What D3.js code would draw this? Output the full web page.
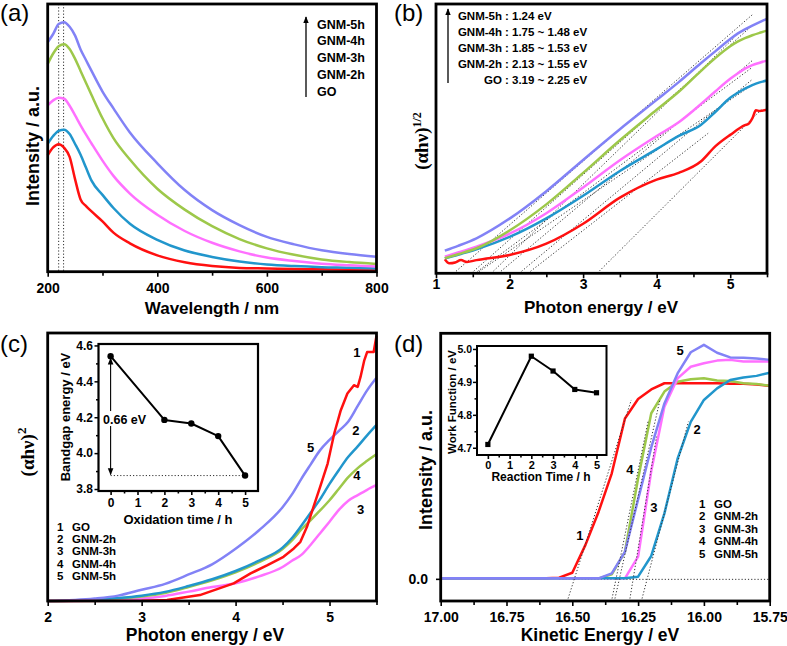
<!DOCTYPE html>
<html><head><meta charset="utf-8">
<script src="https://cdn.jsdelivr.net/npm/d3@7"></script>
<style>body{margin:0;background:#fff}</style>
</head><body>
<script>
// ---------------- DATA ----------------
const seriesNames = ["GO","GNM-2h","GNM-3h","GNM-4h","GNM-5h"];
const seriesColors = ["#ff1010","#2196cc","#ff70ff","#9dc84a","#8282f6"];

// (a) absorbance spectra
const aWavelength = [200,210,220,230,240,250,260,270,280,300,320,350,400,450,500,550,600,650,700,750,800];
const aGO  = [43.5,46.4,47.6,46.3,42.9,34.5,27,24.5,22.5,18.8,14.6,10.6,6.1,3.5,2.1,1.4,1.2,1.0,0.9,0.7,0.6];
const a2h  = [47.8,50.7,52.6,53,51.4,47.7,43.7,38.8,34,28.7,23.8,17.9,11.9,7.9,5.5,3.8,2.7,2.1,1.7,1.5,1.2];
const a3h  = [62.1,64,65,64.6,62,58.4,54.7,51.2,47.9,41.5,35.8,29.2,21.3,15.2,10.8,7.6,5.3,4,3,2.4,1.9];
const a4h  = [77.6,81.5,84.2,85,83.2,79.5,75,70.5,66,57.3,49.9,41.9,31,23.2,17,12.2,8.7,6.3,4.6,3.6,2.9];
const a5h  = [85.7,88.8,92.5,93.2,91.5,88.2,83,79,75,67.3,61,52,40.5,30.5,23,17.4,13,10.2,8,6.6,5.6];
const aPeakLines = [220,229];
const aTicks = [200,400,600,800];

// (b) Tauc (alpha h nu)^1/2
const bEnergy = [1.12,1.3,1.55,2.0,2.5,3.0,3.5,4.0,4.3,4.6,4.8,5.0,5.1,5.2,5.3,5.4,5.5];
const b2h = [5.6,6.9,8.9,13.5,20.4,28.8,38,46.1,51,55.1,60,65.2,67,68.6,69.9,70.9,71.6];
const b3h = [6.2,7.7,9.9,14.7,22.3,31.9,42,51,56.1,62.8,67.6,72.2,74.2,76,77.3,78.2,79];
const b4h = [5.6,7.1,9.3,15.9,25.6,37.3,49.4,60.7,67.4,75.1,80,84.3,86,87.3,88.4,89.3,90.1];
const b5h = [8.4,10.2,13,20.3,30.5,42.1,53.5,64.4,71,78,82.5,87,89,90.6,92,93.3,94.5];
const bGOEnergy = [1.12,1.18,1.26,1.34,1.42,1.55,2.0,2.5,3.0,3.5,4.0,4.3,4.6,4.8,5.0,5.2,5.25,5.3,5.35,5.4,5.5];
const bGO = [5.2,3.7,4.0,4.9,4.2,4.9,6.8,11,18.4,28.1,34.8,37.3,41.5,47.2,51.4,55,55.5,57.5,60.5,60.3,60.7];
// tangent fits: intercept, end energy, end value
const bFitStart = [1.24,1.48,1.75,1.53,1.85,1.55,2.13,2.25,3.19];
const bFitEndE  = [5.30,5.30,5.05,5.30,5.30,5.30,5.30,4.70,5.43];
const bFitEndV  = [96,92,87.4,76.5,79,70,72,52,61];
const bLegendNames = ["GNM-5h","GNM-4h","GNM-3h","GNM-2h","GO"];
const bLegendVals = [": 1.24 eV",": 1.75 ~ 1.48 eV",": 1.85 ~ 1.53 eV",": 2.13 ~ 1.55 eV",": 3.19 ~ 2.25 eV"];
const bTicks = [1,2,3,4,5];

// (c) (alpha h nu)^2
const cEnergy = [2.0,2.5,2.75,3.0,3.25,3.5,3.75,4.0,4.25,4.5,4.6,4.7,4.8,4.9,5.0,5.1,5.2,5.3,5.4,5.5];
const c2h = [0,0.5,1.1,2,3.4,5.6,8.1,11.2,15.1,19.9,23.5,28.1,33,38,43.7,48.9,53.8,57.7,61.8,65.7];
const c3h = [0,0.2,0.5,0.9,1.9,3.5,5.2,6.6,9.2,12.7,15,17.2,21,25.3,29.6,34,37.4,39.5,41.5,43.3];
const c4h = [0,0.4,0.9,1.7,3,5.2,7.7,10.7,14.5,19.4,22.6,26.7,30.2,33.8,37.6,41.9,46.2,49.6,52.3,54.8];
const c5h = [0,0.9,2,4.2,6.4,9.9,13.7,19.5,26.4,35,39.8,45.6,51,56.3,60.1,63.5,67,72.8,78.6,83.3];
const cGOEnergy = [2.0,3.0,3.27,3.62,3.98,4.16,4.34,4.51,4.62,4.69,4.76,4.83,4.9,4.98,5.05,5.12,5.19,5.26,5.3,5.33,5.37,5.4,5.47,5.5];
const cGO = [0,0.1,0.4,2.2,6.6,10.3,13.4,16.5,19.6,22.1,27.7,35.2,42.6,51.3,62.5,71.2,77.4,80.5,79.9,83.6,89.8,92.9,92.9,99];
const cTicks = [2,3,4,5];
// inset: bandgap vs oxidation time
const cInTime = [0,2,3,4,5];
const cInGap = [4.54,4.185,4.165,4.095,3.875];

// (d) UPS cut-off
const dKE = [17.0,16.6,16.55,16.5,16.45,16.4,16.35,16.3,16.25,16.2,16.15,16.1,16.05,16.0,15.95,15.9,15.85,15.8,15.75];
const dGO = [0.004,0.004,0.007,0.027,0.14,0.275,0.431,0.654,0.733,0.772,0.797,0.797,0.797,0.797,0.797,0.795,0.795,0.792,0.786];
const d2h = [0.004,0.004,0.004,0.004,0.004,0.004,0.004,0.004,0.011,0.095,0.268,0.49,0.64,0.729,0.776,0.81,0.82,0.827,0.84];
const d3h = [0.004,0.004,0.004,0.004,0.004,0.004,0.004,0.004,0.092,0.44,0.702,0.817,0.864,0.878,0.889,0.892,0.885,0.885,0.885];
const d4h = [0.004,0.004,0.004,0.004,0.004,0.004,0.02,0.112,0.41,0.675,0.763,0.803,0.813,0.817,0.808,0.806,0.797,0.794,0.787];
const d5h = [0.004,0.004,0.004,0.004,0.004,0.004,0.024,0.112,0.325,0.536,0.715,0.837,0.923,0.953,0.921,0.902,0.901,0.898,0.892];
const dFitStartKE = [16.516,16.349,16.338,16.281,16.235];
const dFitEndKE   = [16.276,16.211,16.167,16.18,16.059];
const dFitEndV    = [0.729,0.648,0.729,0.58,0.641];
const dTicks = [17.0,16.75,16.5,16.25,16.0,15.75];
// inset: work function vs reaction time
const dInTime = [0,2,3,4,5];
const dInWF = [4.71,4.978,4.933,4.877,4.867];

// ---------------- DRAWING ----------------
const SANS = "Arial, 'Liberation Sans', Helvetica, sans-serif";
const SERIF = "'Times New Roman', 'Liberation Serif', serif";
const svg = d3.select("body").append("svg").attr("width",787).attr("height",646)
  .style("background","#fff");
const defs = svg.append("defs");
defs.append("marker").attr("id","arr").attr("viewBox","0 0 10 10").attr("refX",9).attr("refY",5)
  .attr("markerWidth",7).attr("markerHeight",7).attr("markerUnits","userSpaceOnUse").attr("orient","auto-start-reverse")
  .append("path").attr("d","M0,1 L10,5 L0,9 z").attr("fill","#000");

function txt(g,x,y,s,opt={}){
  return g.append("text").attr("x",x).attr("y",y).text(s)
    .style("font-family",opt.family||SANS).style("font-weight",opt.weight||"bold")
    .style("font-size",(opt.size||13)+"px").attr("text-anchor",opt.anchor||"start").attr("fill","#000");
}
function vtxt(g,x,y,s,size,family){
  return g.append("text").attr("transform",`translate(${x},${y}) rotate(-90)`).attr("text-anchor","middle")
    .style("font-family",family||SANS).style("font-weight","bold").style("font-size",size+"px").text(s);
}
function frame(g,x,y,sw){
  const [x0,x1]=x.range(), [y0,y1]=y.range();
  g.append("rect").attr("x",x0).attr("y",y1).attr("width",x1-x0).attr("height",y0-y1)
    .attr("fill","none").attr("stroke","#000").attr("stroke-width",sw);
}
function bottomAxis(g,x,yPos,major,minor,fmt,labelOff,fs,maj,mnr){
  const gm = g.append("g").attr("transform",`translate(0,${yPos})`)
    .call(d3.axisBottom(x).tickValues(minor).tickSize(mnr).tickFormat(""));
  const gM = g.append("g").attr("transform",`translate(0,${yPos})`)
    .call(d3.axisBottom(x).tickValues(major).tickSize(maj).tickFormat(fmt));
  [gm,gM].forEach(a=>{a.select(".domain").remove();a.selectAll("line").attr("stroke","#000").attr("stroke-width",1.6);});
  gM.selectAll("text").attr("y",labelOff).attr("dy",null).attr("fill","#000")
    .style("font-family",SANS).style("font-weight","bold").style("font-size",fs+"px");
}
function leftAxis(g,y,xPos,major,minor,fmt,fs,maj,mnr,pad){
  const gm = g.append("g").attr("transform",`translate(${xPos},0)`)
    .call(d3.axisLeft(y).tickValues(minor).tickSize(mnr).tickFormat(""));
  const gM = g.append("g").attr("transform",`translate(${xPos},0)`)
    .call(d3.axisLeft(y).tickValues(major).tickSize(maj).tickPadding(pad).tickFormat(fmt));
  [gm,gM].forEach(a=>{a.select(".domain").remove();a.selectAll("line").attr("stroke","#000").attr("stroke-width",1.5);});
  gM.selectAll("text").attr("fill","#000").style("font-family",SANS).style("font-weight","bold").style("font-size",fs+"px");
}
function curve(g,x,y,xs,ys,color,cv,w){
  g.append("path").datum(d3.zip(xs,ys)).attr("fill","none").attr("stroke",color)
    .attr("stroke-width",w||2.5).attr("stroke-linejoin","round")
    .attr("d",d3.line().x(d=>x(d[0])).y(d=>y(d[1])).curve(cv||d3.curveLinear));
}
function dotted(g,x1,y1,x2,y2,w){
  g.append("line").attr("x1",x1).attr("y1",y1).attr("x2",x2).attr("y2",y2)
    .attr("stroke","#333").attr("stroke-width",w||1).attr("stroke-dasharray","1.2,2");
}
const range = (a,b,s)=>d3.range(a,b+s/2,s).map(v=>+v.toFixed(4));

// ===== (a) =====
{
  const g = svg.append("g");
  const x = d3.scaleLinear([200,800],[47.7,376.5]);
  const y = d3.scaleLinear([0,100],[271.7,4]);
  aPeakLines.forEach(w=>dotted(g,x(w),y(100),x(w),y(0),1));
  const sets=[aGO,a2h,a3h,a4h,a5h];
  sets.forEach((s,i)=>curve(g,x,y,aWavelength,s,seriesColors[i],d3.curveMonotoneX));
  frame(g,x,y,2.8);
  bottomAxis(g,x,y(0),aTicks,range(300,700,200),d3.format("d"),21.5,14,5,4);
  txt(g,212,314,"Wavelength / nm",{size:17,anchor:"middle"});
  vtxt(g,39,146,"Intensity / a.u.",18);
  txt(g,0,21,"(a)",{size:24,weight:"normal"});
  g.append("line").attr("x1",306).attr("y1",97).attr("x2",306).attr("y2",17)
    .attr("stroke","#000").attr("stroke-width",1.3).attr("marker-end","url(#arr)");
  const legA = seriesNames.slice().reverse();
  legA.forEach((n,i)=>txt(g,317,28.5+i*16.9,n,{size:12.5}));
}

// ===== (b) =====
{
  const g = svg.append("g");
  const x = d3.scaleLinear([1,5.5],[436,767]);
  const y = d3.scaleLinear([0,100],[273.3,4]);
  bFitStart.forEach((e,i)=>dotted(g,x(e),y(0),x(bFitEndE[i]),y(bFitEndV[i]),1));
  curve(g,x,y,bGOEnergy,bGO,seriesColors[0],d3.curveMonotoneX);
  [b2h,b3h,b4h,b5h].forEach((s,i)=>curve(g,x,y,bEnergy,s,seriesColors[i+1],d3.curveMonotoneX));
  frame(g,x,y,2.8);
  bottomAxis(g,x,y(0),bTicks,range(1.5,5.5,1),d3.format("d"),15.5,14,5,4);
  txt(g,601,313,"Photon energy / eV",{size:17,anchor:"middle"});
  const t = g.append("text").attr("transform","translate(428,141) rotate(-90)").attr("text-anchor","middle")
    .style("font-family",SERIF).style("font-weight","bold").style("font-size","19px");
  t.append("tspan").text("(\u03b1h\u03bd)");
  t.append("tspan").text("1/2").attr("dy","-7").style("font-size","12px");
  txt(g,394,21,"(b)",{size:24,weight:"normal"});
  g.append("line").attr("x1",448).attr("y1",83).attr("x2",448).attr("y2",9)
    .attr("stroke","#000").attr("stroke-width",1.3).attr("marker-end","url(#arr)");
  bLegendNames.forEach((n,i)=>{
    txt(g,502,20+i*16,n,{size:11.5,anchor:"end"});
    txt(g,505,20+i*16,bLegendVals[i],{size:11.5});
  });
}

// ===== (c) =====
{
  const g = svg.append("g");
  const x = d3.scaleLinear([2,5.5],[47.7,376.5]);
  const y = d3.scaleLinear([0,100],[601,333]);
  [c3h,c4h,c2h,c5h].forEach((s,i)=>curve(g,x,y,cEnergy,s,seriesColors[[2,3,1,4][i]],d3.curveMonotoneX));
  curve(g,x,y,cGOEnergy,cGO,seriesColors[0],d3.curveLinear);
  frame(g,x,y,2.8);
  bottomAxis(g,x,y(0),cTicks,range(2.5,5.5,1),d3.format("d"),20.7,14,5,4);
  txt(g,205,640.5,"Photon energy / eV",{size:17.5,anchor:"middle"});
  const t = g.append("text").attr("transform","translate(34,452) rotate(-90)").attr("text-anchor","middle")
    .style("font-family",SERIF).style("font-weight","bold").style("font-size","19px");
  t.append("tspan").text("(\u03b1h\u03bd)");
  t.append("tspan").text("2").attr("dy","-8").style("font-size","13px");
  txt(g,0,352,"(c)",{size:24,weight:"normal"});
  const labE=[5.29,5.28,5.33,5.29,4.8], labV=[92.9,63.8,34,47,57.1];
  ["1","2","3","4","5"].forEach((s,i)=>txt(g,x(labE[i]),y(labV[i])+4.5,s,{size:13,anchor:"middle"}));
  seriesNames.forEach((n,i)=>{
    txt(g,57,530.5+i*12.4,String(i+1),{size:11.5});
    txt(g,72,530.5+i*12.4,n,{size:11.5});
  });
  // inset
  const xi = d3.scaleLinear([-0.45,5.48],[98.5,258]);
  const yi = d3.scaleLinear([3.789,4.608],[491,344]);
  g.append("rect").attr("x",98.5).attr("y",344).attr("width",159.5).attr("height",147).attr("fill","#fff");
  dotted(g,xi(0),yi(3.875),xi(5),yi(3.875),1);
  g.append("line").attr("x1",xi(0)).attr("y1",yi(4.54)+2).attr("x2",xi(0)).attr("y2",yi(3.875)-1)
    .attr("stroke","#000").attr("stroke-width",1.1)
    .attr("marker-start","url(#arr)").attr("marker-end","url(#arr)");
  g.append("rect").attr("x",103).attr("y",yi(4.19)-8).attr("width",40).attr("height",15).attr("fill","#fff");
  txt(g,103,yi(4.19)+4.5,"0.66 eV",{size:12.5});
  curve(g,xi,yi,cInTime,cInGap,"#000",d3.curveLinear,2);
  g.selectAll(".cdot").data(d3.zip(cInTime,cInGap)).join("circle")
    .attr("cx",d=>xi(d[0])).attr("cy",d=>yi(d[1])).attr("r",3.2).attr("fill","#000");
  frame(g,xi,yi,2.2);
  bottomAxis(g,xi,491,[0,1,2,3,4,5],range(0.5,4.5,1),d3.format("d"),16,12,4,2.5);
  leftAxis(g,yi,98.5,[3.8,4.0,4.2,4.4,4.6],[3.9,4.1,4.3,4.5],d3.format(".1f"),12,4,2.5,1.5);
  txt(g,178,524,"Oxidation time / h",{size:13,anchor:"middle"});
  vtxt(g,70,417,"Bandgap energy / eV",13);
}

// ===== (d) =====
{
  const g = svg.append("g");
  const x = d3.scaleLinear([17,15.75],[440.7,769.7]);
  const y = d3.scaleLinear([-0.088,1],[601,333.3]);
  dotted(g,x(16.55),y(0),x(15.75),y(0),1);
  [dGO,d4h,d3h,d2h,d5h].forEach((s,i)=>curve(g,x,y,dKE,s,seriesColors[[0,3,2,1,4][i]],d3.curveLinear));
  dFitStartKE.forEach((k,i)=>dotted(g,x(k),y(-0.078),x(dFitEndKE[i]),y(dFitEndV[i]),1));
  frame(g,x,y,2.8);
  bottomAxis(g,x,601,dTicks,range(15.875,16.875,0.25),d3.format(".2f"),20.7,14,5,4);
  txt(g,428,584,"0.0",{size:14,anchor:"end"});
  g.append("line").attr("x1",440.7).attr("x2",436).attr("y1",y(0)).attr("y2",y(0)).attr("stroke","#000").attr("stroke-width",1.6);
  txt(g,600,640.5,"Kinetic Energy / eV",{size:17.5,anchor:"middle"});
  vtxt(g,432,470,"Intensity / a.u.",18);
  txt(g,394,352,"(d)",{size:24,weight:"normal"});
  const labK=[16.471,16.026,16.19,16.281,16.09], labV=[0.18,0.607,0.294,0.448,0.932];
  ["1","2","3","4","5"].forEach((s,i)=>txt(g,x(labK[i]),y(labV[i])+4.5,s,{size:13,anchor:"middle"}));
  seriesNames.forEach((n,i)=>{
    txt(g,699,507.5+i*12.5,String(i+1),{size:11.5});
    txt(g,714,507.5+i*12.5,n,{size:11.5});
  });
  // inset
  const xi = d3.scaleLinear([-0.5,5.46],[477,606.5]);
  const yi = d3.scaleLinear([4.678,5.009],[455,346]);
  g.append("rect").attr("x",477).attr("y",346).attr("width",129.5).attr("height",109).attr("fill","#fff");
  curve(g,xi,yi,dInTime,dInWF,"#000",d3.curveLinear,2);
  g.selectAll(".dsq").data(d3.zip(dInTime,dInWF)).join("rect")
    .attr("x",d=>xi(d[0])-2.6).attr("y",d=>yi(d[1])-2.6).attr("width",5.2).attr("height",5.2).attr("fill","#000");
  frame(g,xi,yi,2);
  bottomAxis(g,xi,455,[0,1,2,3,4,5],range(0.5,4.5,1),d3.format("d"),13.5,11,4,2.5);
  leftAxis(g,yi,477,[4.7,4.8,4.9,5.0],[4.75,4.85,4.95],d3.format(".1f"),10.5,4,2.5,1);
  txt(g,541,481,"Reaction Time / h",{size:12,anchor:"middle"});
  vtxt(g,456,402,"Work Function / eV",11.5);
}
</script>
</body></html>
